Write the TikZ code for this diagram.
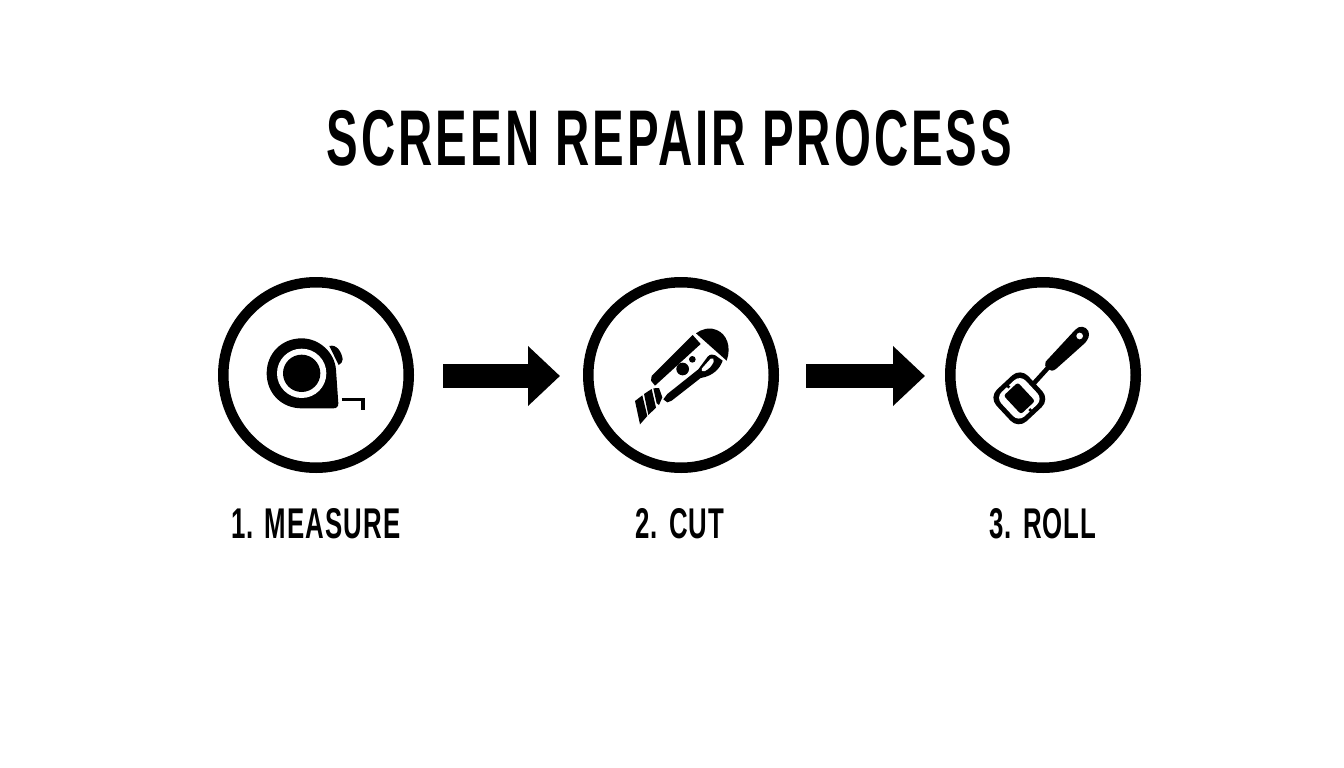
\documentclass[tikz,border=0pt]{standalone}
\usepackage{fontspec}
\usetikzlibrary{arrows.meta}
\newfontfamily\condtitle[FakeStretch=0.6,LetterSpace=3.8]{Liberation Sans}
\newfontfamily\condlabel[FakeStretch=0.6,LetterSpace=2.6]{Liberation Sans}
\tikzset{
  stepring/.style={circle,draw=black,line width=10.5pt,minimum size=185.5pt,inner sep=0pt,fill=white},
  flow/.style={line width=24.5pt,draw=black,-{Triangle[length=32pt,width=58pt]}},
  steplabel/.style={font=\condlabel\bfseries\fontsize{43}{43}\selectfont,text=black,inner sep=0pt},
  ttl/.style={font=\condtitle\bfseries\fontsize{79}{79}\selectfont,text=black,inner sep=0pt},
  zoomed/.style={x=0.33333pt,y=-0.33333pt}
}
\begin{document}
\begin{tikzpicture}[x=1pt,y=-1pt]
\useasboundingbox (0,0) rectangle (1344,768);
\fill[white] (0,0) rectangle (1344,768);
\node[ttl] (title) at (669.5,138.5) {SCREEN REPAIR PROCESS};
\node[stepring] (c1) at (316,375) {};
\node[stepring] (c2) at (681,375) {};
\node[stepring] (c3) at (1043,375) {};
\node[steplabel] (l1) at (316,524) {1. MEASURE};
\node[steplabel] (l2) at (680,524) {2. CUT};
\node[steplabel] (l3) at (1043,524) {3. ROLL};
\draw[flow,shorten <=29pt,shorten >=23pt] ([yshift=-1pt]c1.east) -- ([yshift=-1pt]c2.west);
\draw[flow,shorten <=27pt,shorten >=20pt] ([yshift=-1pt]c2.east) -- ([yshift=-1pt]c3.west);
% tape measure
\begin{scope}[shift={(240,320)},zoomed]
\fill (268,78) .. controls (290,72) and (305,95) .. (308,118) .. controls (308,125) and (303,132) .. (296,135) -- cycle;
\fill (185,55) .. controls (240,55) and (285,100) .. (288,150) -- (295,250) .. controls (295,260) and (290,265) .. (280,265)
 -- (185,265) .. controls (125,265) and (80,220) .. (80,160) .. controls (80,100) and (125,55) .. (185,55) -- cycle;
\fill[white] (185,160) circle[radius=74];
\fill (185,160) circle[radius=56];
\draw[line width=3.6pt,line join=miter] (305,238) -- (369,238) -- (369,271);
\end{scope}
% cutter
\begin{scope}[shift={(610,320)},zoomed]
\fill (258,40) .. controls (275,27) and (300,20) .. (320,30) .. controls (350,42) and (365,80) .. (350,122) -- cycle;
\fill (248,45) -- (272,72) -- (135,197) -- (123,182) -- (125,168) -- cycle;
\fill (338,122) .. controls (330,145) and (310,168) .. (272,174) -- (185,242) -- (172,247) -- (160,238) -- (172,222) -- (265,148) -- (293,110) .. controls (300,102) and (310,102) .. (316,106) -- cycle;
\fill[white] (302,116) .. controls (308,111) and (314,118) .. (311,125) .. controls (307,135) and (298,147) .. (285,153) .. controls (276,156) and (271,150) .. (276,145) -- cycle;
\fill (218,147) circle[radius=19];
\fill (247,118) circle[radius=10];
\fill (75,243) -- (97,226) -- (112,288) -- (90,313) -- cycle;
\fill (102,222) -- (125,207) -- (138,263) -- (115,285) -- cycle;
\fill (130,205) -- (147,204) -- (157,232) -- (147,255) -- (140,250) -- cycle;
\end{scope}
% roller
\begin{scope}[shift={(975,315)},zoomed]
\draw[line width=4.6pt] (222,155) -- (172,210);
\fill (212,140) -- (300,45) .. controls (312,30) and (332,33) .. (340,48) .. controls (345,62) and (340,72) .. (330,84) -- (245,160) .. controls (235,170) and (225,168) .. (218,162) .. controls (210,155) and (208,147) .. (212,140) -- cycle;
\fill[white] (314,63) circle[radius=10];
\begin{scope}[shift={(133,250)},rotate=43]
\fill[rounded corners=11.3pt] (-65,-65) rectangle (65,65);
\fill[white,rounded corners=8pt] (-50,-50) rectangle (50,50);
\fill[rounded corners=2.5pt] (-29,-38) rectangle (29,38);
\fill (-4,-60) rectangle (4,-44);
\fill (-4,44) rectangle (4,60);
\end{scope}
\end{scope}
\end{tikzpicture}
\end{document}
